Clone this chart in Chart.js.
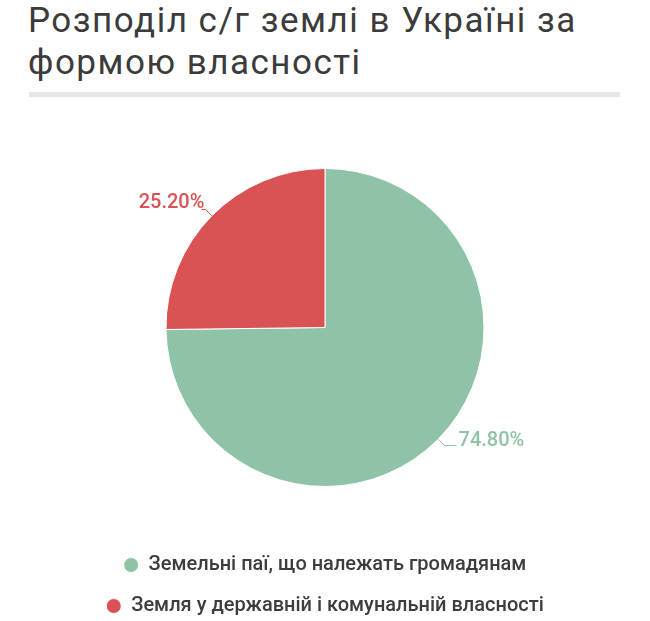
<!DOCTYPE html>
<html>
<head>
<meta charset="utf-8">
<script src="https://cdn.jsdelivr.net/npm/chart.js@4"></script>
<style>
    body { margin: 0; width: 650px; height: 621px; background: #fff; overflow: hidden; position: relative; font-family: Roboto, sans-serif; }
    .title { position: absolute; left: 28px; top: 0; width: 610px; font-size: 35px; letter-spacing: 1.5px; line-height: 42px; color: #3b3b3b; font-weight: 400; margin: 0; }
    .rule { position: absolute; left: 29px; top: 92px; width: 591px; height: 5px; background: #e6e6e6; }
    .chart { position: absolute; left: 0; top: 100px; width: 650px; height: 526px; }
</style>
</head>
<body>
<h1 class="title">Розподіл с/г землі в Україні за формою власності</h1>
<div class="rule"></div>
<div class="chart"><canvas id="pie"></canvas></div>
<script>
const categories = ['Земельні паї, що належать громадянам', 'Земля у державній і комунальній власності'];
const shares = [74.8, 25.2];
const colors = ['#8fc3a7', '#db5254'];

// percent labels outside the slices with a small elbow leader
const outsideLabels = {
    id: 'outsideLabels',
    afterDatasetsDraw(chart) {
        const ctx = chart.ctx;
        const meta = chart.getDatasetMeta(0);
        ctx.save();
        ctx.font = '500 20px Roboto';
        ctx.textBaseline = 'middle';
        ctx.lineWidth = 1;
        meta.data.forEach((arc, i) => {
            const { x, y, startAngle, endAngle, outerRadius } = arc.getProps(['x', 'y', 'startAngle', 'endAngle', 'outerRadius']);
            const mid = (startAngle + endAngle) / 2;
            const cos = Math.cos(mid), sin = Math.sin(mid);
            const right = cos >= 0;
            const x0 = x + cos * outerRadius, y0 = y + sin * outerRadius;
            const x1 = x + cos * (outerRadius + 9), y1 = y + sin * (outerRadius + 9);
            const x2 = x1 + (right ? 12 : -4);
            ctx.strokeStyle = colors[i];
            ctx.beginPath();
            ctx.moveTo(x0, y0);
            ctx.lineTo(x1, y1);
            ctx.lineTo(x2, y1);
            ctx.stroke();
            ctx.fillStyle = colors[i];
            ctx.textAlign = right ? 'left' : 'right';
            ctx.fillText(shares[i].toFixed(2) + '%', x2 + (right ? 2 : 3), y1 + (right ? -5 : -6));
        });
        ctx.restore();
    }
};

new Chart(document.getElementById('pie'), {
    type: 'pie',
    data: {
        labels: categories,
        datasets: [{
            data: shares,
            backgroundColor: colors,
            borderColor: '#ffffff',
            borderWidth: 1,
            hoverOffset: 0
        }]
    },
    options: {
        responsive: true,
        maintainAspectRatio: false,
        animation: false,
        radius: 159,
        layout: { padding: { top: 21, bottom: 0 } },
        plugins: {
            tooltip: { enabled: false },
            legend: {
                position: 'bottom',
                labels: {
                    usePointStyle: true,
                    pointStyle: 'circle',
                    boxWidth: 15,
                    boxHeight: 10.6,
                    pointStyleWidth: 15,
                    padding: 21,
                    color: '#3d3d3d',
                    font: { family: 'Roboto', size: 20, weight: '500' }
                }
            }
        }
    },
    plugins: [outsideLabels]
});
</script>
</body>
</html>
